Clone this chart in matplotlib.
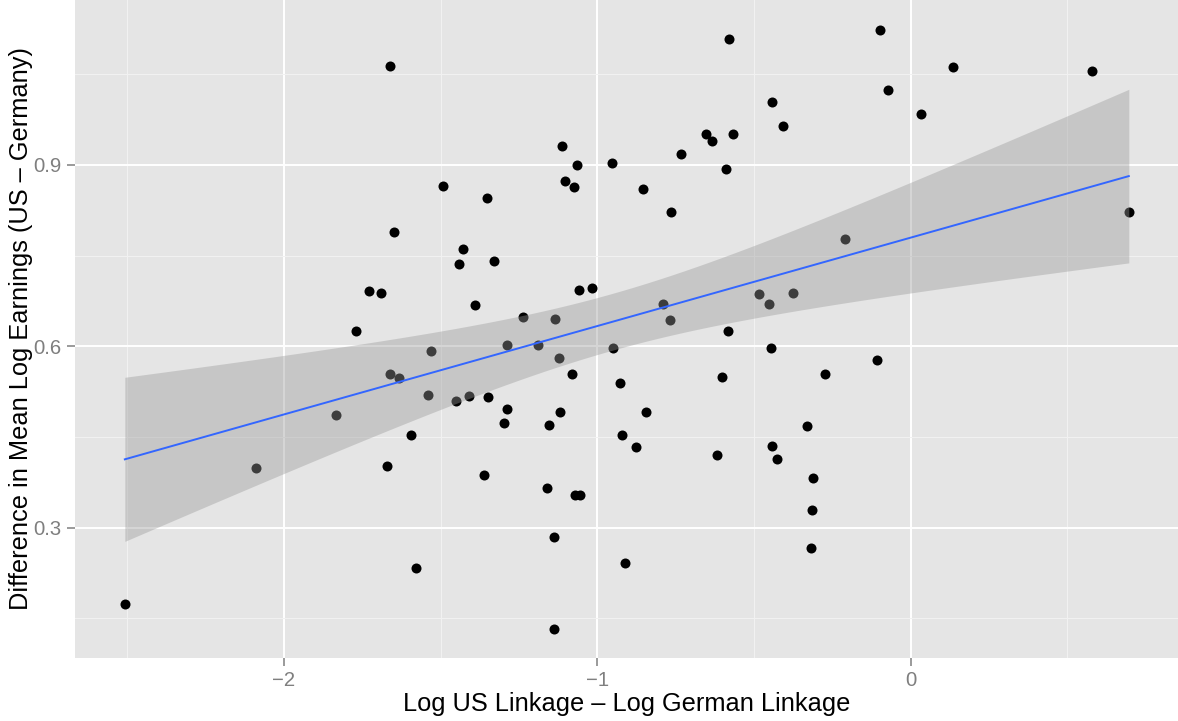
import numpy as np
import matplotlib
matplotlib.use("Agg")
import matplotlib.pyplot as plt

# log linkage difference (US - German) and difference in mean log earnings
link_diff = [-2.508, -2.088, -1.835, -1.770, -1.728, -1.690, -1.670, -1.662, -1.661, -1.633,
             -1.648, -1.594, -1.579, -1.541, -1.531, -1.492, -1.451, -1.410, -1.440, -1.429,
             -1.390, -1.361, -1.351, -1.349, -1.329, -1.298, -1.288, -1.288, -1.238, -1.191,
             -1.161, -1.154, -1.137, -1.138, -1.134, -1.123, -1.120, -1.114, -1.104, -1.075,
             -1.065, -1.080, -1.070, -1.055, -1.058, -1.016, -0.952, -0.950, -0.928, -0.922,
             -0.911, -0.876, -0.855, -0.845, -0.792, -0.768, -0.764, -0.734, -0.652, -0.634,
             -0.618, -0.603, -0.589, -0.582, -0.580, -0.567, -0.483, -0.452, -0.445, -0.442,
             -0.442, -0.426, -0.406, -0.375, -0.332, -0.319, -0.315, -0.312, -0.275, -0.209,
             -0.109, -0.099, -0.073, 0.032, 0.134, 0.580, 0.696]
earn_diff = [0.173, 0.398, 0.486, 0.625, 0.692, 0.689, 0.402, 1.063, 0.555, 0.547,
             0.789, 0.454, 0.234, 0.519, 0.593, 0.866, 0.509, 0.517, 0.737, 0.761,
             0.668, 0.387, 0.845, 0.516, 0.741, 0.473, 0.496, 0.602, 0.648, 0.603,
             0.365, 0.470, 0.285, 0.133, 0.645, 0.580, 0.491, 0.931, 0.873, 0.863,
             0.900, 0.555, 0.354, 0.354, 0.693, 0.696, 0.903, 0.598, 0.540, 0.454,
             0.241, 0.433, 0.860, 0.491, 0.670, 0.643, 0.822, 0.919, 0.951, 0.939,
             0.420, 0.550, 0.893, 0.625, 1.108, 0.952, 0.686, 0.670, 0.597, 1.005,
             0.435, 0.413, 0.964, 0.688, 0.468, 0.266, 0.329, 0.382, 0.554, 0.777,
             0.578, 1.123, 1.024, 0.984, 1.062, 1.055, 0.823]

x = np.array(link_diff)
y = np.array(earn_diff)

# linear fit with 95% confidence band, like geom_smooth(method = "lm")
n = len(x)
slope, intercept = np.polyfit(x, y, 1)
resid = y - (intercept + slope * x)
s = np.sqrt(np.sum(resid ** 2) / (n - 2))
sxx = np.sum((x - x.mean()) ** 2)
t_crit = 1.988  # t quantile, 0.975, df = n - 2
xs = np.linspace(x.min(), x.max(), 80)
fit = intercept + slope * xs
se = s * np.sqrt(1 / n + (xs - x.mean()) ** 2 / sxx)

fig = plt.figure(figsize=(11.78, 7.21), dpi=100)
ax = fig.add_axes([75 / 1178, 63 / 721, 1 - 75 / 1178, 1 - 63 / 721])
ax.set_facecolor("#E5E5E5")
for sp in ax.spines.values():
    sp.set_visible(False)

ax.scatter(x, y, s=52, color="black", linewidths=0, zorder=3)
ax.fill_between(xs, fit - t_crit * se, fit + t_crit * se, color="#999999", alpha=0.4,
                linewidth=0, zorder=4)
ax.plot(xs, fit, color="#3366FF", linewidth=1.4, zorder=5)

ax.set_xlim(-2.667, 0.853)
ax.set_ylim(0.0843, 1.173)
ax.set_xticks([-2, -1, 0])
ax.set_xticklabels(["\u22122", "\u22121", "0"])
ax.set_yticks([0.3, 0.6, 0.9])
ax.set_yticklabels(["0.3", "0.6", "0.9"])
ax.set_xticks([-2.5, -1.5, -0.5, 0.5], minor=True)
ax.set_yticks([0.15, 0.45, 0.75, 1.05], minor=True)
ax.grid(which="major", color="white", linewidth=1.4, zorder=0)
ax.grid(which="minor", color="#F2F2F2", linewidth=0.7, zorder=0)
ax.set_axisbelow(True)
ax.tick_params(which="major", length=6, width=1.1, color="#7F7F7F",
               labelcolor="#7F7F7F", labelsize=14.6)
ax.tick_params(axis="x", which="major", pad=3)
ax.tick_params(axis="y", which="major", pad=4)
ax.tick_params(which="minor", length=0)
for lab in ax.get_xticklabels() + ax.get_yticklabels():
    lab.set_family("Liberation Sans")

ax.set_xlabel("Log US Linkage \u2013 Log German Linkage", fontsize=18.3,
              family="Liberation Sans")
ax.set_ylabel("Difference in Mean Log Earnings (US \u2013 Germany)", fontsize=18.3,
              family="Liberation Sans")
ax.xaxis.set_label_coords(0.5, -0.0517)
ax.yaxis.set_label_coords(-0.038, 0.5)

fig.savefig("out.png", dpi=100)
